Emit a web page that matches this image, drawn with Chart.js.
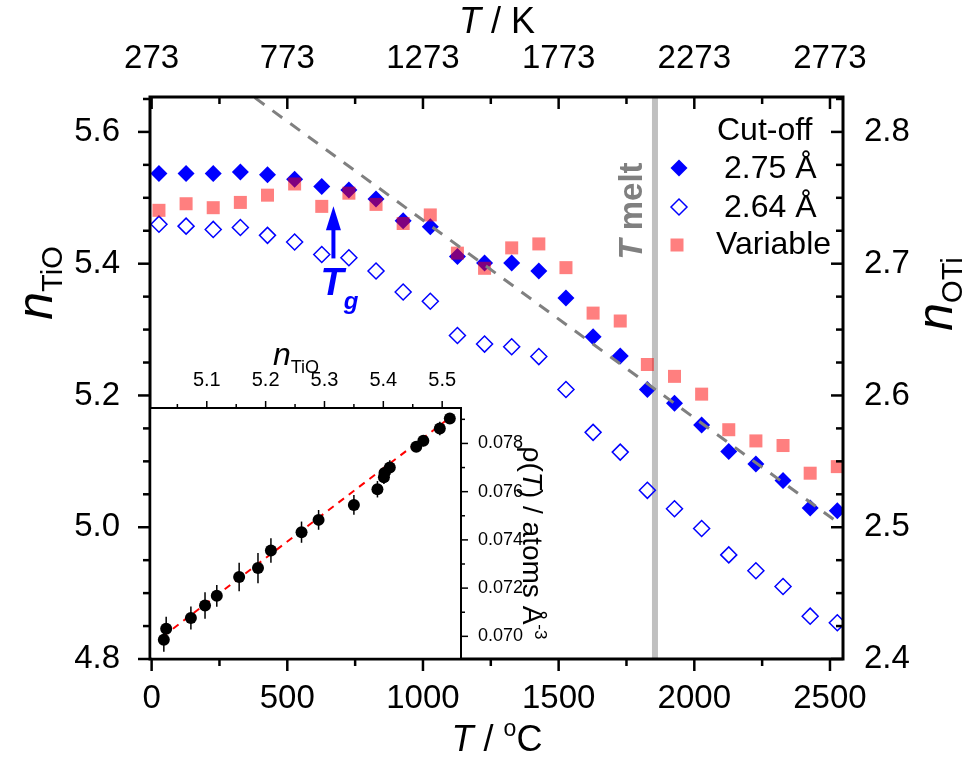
<!DOCTYPE html>
<html>
<head>
<meta charset="utf-8">
<script src="https://cdn.jsdelivr.net/npm/chart.js@4.4.0/dist/chart.umd.min.js"></script>
<style>
  html, body { margin: 0; padding: 0; background: #fff; }
  #wrap { position: relative; width: 971px; height: 761px; }
  #wrap canvas { position: absolute; left: 0; top: 0; }
</style>
</head>
<body>
<div id="wrap">
  <canvas id="main" width="971" height="761"></canvas>
  <canvas id="inset" width="971" height="761"></canvas>
</div>
<script>
// temperature of each simulation, in °C
const tempC = [27, 127, 227, 327, 427, 527, 627, 727, 827, 927, 1027, 1127, 1227,
               1327, 1427, 1527, 1627, 1727, 1827, 1927, 2027, 2127, 2227, 2327, 2427, 2527];
// n_TiO for each cut-off
const nCut275 = [5.537, 5.537, 5.537, 5.539, 5.535, 5.528, 5.517, 5.512, 5.498, 5.465, 5.456, 5.411, 5.401,
                 5.401, 5.389, 5.348, 5.289, 5.260, 5.209, 5.188, 5.155, 5.115, 5.096, 5.071, 5.029, 5.025];
const nCut264 = [5.460, 5.457, 5.452, 5.455, 5.443, 5.433, 5.414, 5.409, 5.389, 5.357, 5.343, 5.291, 5.278,
                 5.274, 5.259, 5.209, 5.144, 5.114, 5.056, 5.028, 4.998, 4.958, 4.934, 4.910, 4.865, 4.855];
const nVariable = [5.481, 5.491, 5.485, 5.493, 5.504, 5.521, 5.487, 5.507, 5.490, 5.461, 5.474, 5.416, 5.393,
                   5.424, 5.430, 5.394, 5.325, 5.313, 5.247, 5.229, 5.202, 5.148, 5.131, 5.124, 5.082, 5.092];
// grey dashed guide line (two end points)
const guideT = [380, 2530];
const guideN = [5.652, 5.007];
// melting point and glass transition marker
const meltT = 1855;
const tgT = 670;
const tgArrowN = [5.408, 5.487];

// axis ranges and tick labels
const xMin = -6, xMax = 2548;
const yMin = 4.8, yMax = 5.653;
const xTicksC = [0, 500, 1000, 1500, 2000, 2500];
const xTicksK = [273, 773, 1273, 1773, 2273, 2773];
const yTicksTiO = [4.8, 5.0, 5.2, 5.4, 5.6];
const yTicksOTi = [2.4, 2.5, 2.6, 2.7, 2.8];

// inset: density vs coordination number
const insetN = [5.027, 5.031, 5.073, 5.097, 5.117, 5.155, 5.187, 5.209, 5.261, 5.290,
                5.350, 5.390, 5.401, 5.402, 5.411, 5.456, 5.468, 5.496, 5.513];
const insetRho = [0.06986, 0.07031, 0.07076, 0.07128, 0.07168, 0.07246, 0.07283, 0.07356, 0.07432, 0.07483,
                  0.07545, 0.07610, 0.07660, 0.07677, 0.07700, 0.07786, 0.07811, 0.07862, 0.07903];
const insetErr = [0.0005, 0.0005, 0.00048, 0.00055, 0.00045, 0.00059, 0.00063, 0.00051, 0.00044, 0.00041,
                  0.00041, 0.00034, 0.00028, 0.00028, 0.0003, 0.0002, 0.00023, 0.00028, 0.0002];
const fitN = [5.025, 5.518];
const fitRho = [0.06999, 0.07916];
const insetXMin = 5.0035, insetXMax = 5.532;
const insetYMin = 0.06906, insetYMax = 0.07947;
const insetNTicks = [5.1, 5.2, 5.3, 5.4, 5.5];
const insetRhoTicks = [0.070, 0.072, 0.074, 0.076, 0.078];

const FONT = "'Liberation Sans', Arial, sans-serif";
const BLUE = '#0000ff';
const PINK = 'rgba(255,0,0,0.5)';

function pts(xs, ys) {
    return xs.map((x, i) => ({ x: x, y: ys[i] }));
}

function steps(from, to, step) {
    const out = [];
    for (let v = from; v <= to + step * 1e-6; v += step) out.push(+v.toFixed(6));
    return out;
}

// draws text made of several runs with their own font and vertical offset
function richText(ctx, parts, x, y, align) {
    let total = 0;
    parts.forEach(p => { ctx.font = p[1]; total += ctx.measureText(p[0]).width; });
    let cx = align === 'center' ? x - total / 2 : (align === 'right' ? x - total : x);
    ctx.textAlign = 'left';
    parts.forEach(p => {
        ctx.font = p[1];
        ctx.fillText(p[0], cx, y + (p[2] || 0));
        cx += ctx.measureText(p[0]).width;
    });
}

// tick marks along a scale; dir is +1/-1 in pixel direction from the axis line
function tickMarks(ctx, scale, values, len, base, dir, horizontal) {
    values.forEach(v => {
        if (v < scale.min - 1e-9 || v > scale.max + 1e-9) return;
        const p = scale.getPixelForValue(v);
        ctx.beginPath();
        if (horizontal) {
            ctx.moveTo(p, base);
            ctx.lineTo(p, base + dir * len);
        } else {
            ctx.moveTo(base, p);
            ctx.lineTo(base + dir * len, p);
        }
        ctx.stroke();
    });
}

function diamond(ctx, x, y, r) {
    ctx.beginPath();
    ctx.moveTo(x - r, y);
    ctx.lineTo(x, y - r);
    ctx.lineTo(x + r, y);
    ctx.lineTo(x, y + r);
    ctx.closePath();
}

const mainDecor = {
    id: 'mainDecor',
    afterDraw(chart) {
        const ctx = chart.ctx;
        const a = chart.chartArea;
        const sx = chart.scales.x, sxK = chart.scales.xK, sy = chart.scales.y, syO = chart.scales.yO;
        ctx.save();

        // frame
        ctx.strokeStyle = '#000';
        ctx.lineWidth = 3;
        ctx.strokeRect(a.left, a.top, a.right - a.left, a.bottom - a.top);

        // ticks: bottom/left outward, top/right inward
        ctx.lineWidth = 2.5;
        tickMarks(ctx, sx, xTicksC, 12, a.bottom, 1, true);
        tickMarks(ctx, sx, steps(250, 2250, 500), 7, a.bottom, 1, true);
        tickMarks(ctx, sxK, xTicksK, 12, a.top, 1, true);
        tickMarks(ctx, sxK, steps(523, 2523, 500), 7, a.top, 1, true);
        tickMarks(ctx, sy, yTicksTiO, 12, a.left, -1, false);
        tickMarks(ctx, sy, steps(4.85, 5.65, 0.05).filter(v => yTicksTiO.indexOf(v) < 0), 7, a.left, -1, false);
        tickMarks(ctx, syO, yTicksOTi, 12, a.right, -1, false);
        tickMarks(ctx, syO, steps(2.425, 2.825, 0.025).filter(v => yTicksOTi.indexOf(v) < 0), 7, a.right, -1, false);

        // axis titles
        ctx.fillStyle = '#000';
        ctx.textBaseline = 'alphabetic';
        richText(ctx, [['T', 'italic 36px ' + FONT], [' / ', '36px ' + FONT], ['o', '23px ' + FONT, -15], ['C', '36px ' + FONT]],
                 497, 751, 'center');
        richText(ctx, [['T', 'italic 36px ' + FONT], [' / K', '36px ' + FONT]], 497, 33, 'center');

        ctx.save();
        ctx.translate(52, 283);
        ctx.rotate(-Math.PI / 2);
        richText(ctx, [['n', 'italic 50px ' + FONT], ['TiO', '29px ' + FONT, 10]], 0, 0, 'center');
        ctx.restore();

        ctx.save();
        ctx.translate(952, 294);
        ctx.rotate(-Math.PI / 2);
        richText(ctx, [['n', 'italic 50px ' + FONT], ['OTi', '29px ' + FONT, 10]], 0, 0, 'center');
        ctx.restore();

        // T melt label
        ctx.save();
        ctx.translate(642, 211);
        ctx.rotate(-Math.PI / 2);
        ctx.fillStyle = '#808080';
        richText(ctx, [['T', 'italic bold 33px ' + FONT], [' melt', 'bold 33px ' + FONT]], 0, 0, 'center');
        ctx.restore();

        // T_g arrow and label
        const ax = sx.getPixelForValue(tgT);
        const yBase = sy.getPixelForValue(tgArrowN[0]);
        const yTip = sy.getPixelForValue(tgArrowN[1]);
        ctx.strokeStyle = BLUE;
        ctx.fillStyle = BLUE;
        ctx.lineWidth = 4;
        ctx.beginPath();
        ctx.moveTo(ax, yBase);
        ctx.lineTo(ax, yTip + 20);
        ctx.stroke();
        ctx.beginPath();
        ctx.moveTo(ax - 7.5, yTip + 24);
        ctx.lineTo(ax + 7.5, yTip + 24);
        ctx.lineTo(ax, yTip);
        ctx.closePath();
        ctx.fill();
        richText(ctx, [['T', 'italic bold 38px ' + FONT], ['g', 'italic bold 24px ' + FONT, 14]], ax + 6, 295, 'center');

        // legend
        ctx.fillStyle = '#000';
        ctx.font = '32px ' + FONT;
        ctx.textAlign = 'left';
        ctx.textBaseline = 'middle';
        ctx.fillText('Cut-off', 717, 131);
        ctx.fillText('2.75 Å', 724, 169);
        ctx.fillText('2.64 Å', 724, 208);
        ctx.fillText('Variable', 716, 245);
        ctx.fillStyle = BLUE;
        diamond(ctx, 679, 168, 8.5);
        ctx.fill();
        ctx.strokeStyle = BLUE;
        ctx.lineWidth = 1.5;
        diamond(ctx, 679, 207, 8);
        ctx.stroke();
        ctx.fillStyle = PINK;
        ctx.fillRect(670.5, 238.5, 13, 13);

        ctx.restore();
    }
};

const tickFont = { family: FONT, size: 33 };

new Chart(document.getElementById('main'), {
    type: 'scatter',
    data: {
        datasets: [
            {
                label: 'T melt', data: pts([meltT, meltT], [yMin, yMax]), showLine: true,
                borderColor: '#c0c0c0', borderWidth: 6, pointRadius: 0, order: 5, clip: 0
            },
            {
                label: '2.75 Å', data: pts(tempC, nCut275), pointStyle: 'rectRot', pointRadius: 8.5,
                backgroundColor: BLUE, borderWidth: 0, order: 3
            },
            {
                label: '2.64 Å', data: pts(tempC, nCut264), pointStyle: 'rectRot', pointRadius: 8,
                backgroundColor: 'rgba(0,0,0,0)', borderColor: BLUE, borderWidth: 1.5, order: 2
            },
            {
                label: 'Variable', data: pts(tempC, nVariable), pointStyle: 'rect', pointRadius: 9.2,
                backgroundColor: PINK, borderWidth: 0, order: 1
            },
            {
                label: 'guide', data: pts(guideT, guideN), showLine: true, borderColor: '#808080',
                borderWidth: 3, borderDash: [12, 10], pointRadius: 0, order: 0, clip: 0
            }
        ]
    },
    options: {
        responsive: false,
        animation: false,
        devicePixelRatio: 1,
        layout: { padding: 0 },
        plugins: { legend: { display: false }, tooltip: { enabled: false } },
        scales: {
            x: {
                type: 'linear', position: 'bottom', min: xMin, max: xMax,
                grid: { display: false }, border: { display: false },
                afterBuildTicks: s => { s.ticks = xTicksC.map(v => ({ value: v })); },
                afterFit: s => { s.height = 102; },
                ticks: { font: tickFont, color: '#000', padding: 12, maxRotation: 0, autoSkip: false, callback: v => String(v) }
            },
            xK: {
                type: 'linear', position: 'top', min: xMin + 273, max: xMax + 273,
                grid: { display: false }, border: { display: false },
                afterBuildTicks: s => { s.ticks = xTicksK.map(v => ({ value: v })); },
                afterFit: s => { s.height = 97; },
                ticks: { font: tickFont, color: '#000', padding: 10, maxRotation: 0, autoSkip: false, callback: v => String(v) }
            },
            y: {
                type: 'linear', position: 'left', min: yMin, max: yMax,
                grid: { display: false }, border: { display: false },
                afterBuildTicks: s => { s.ticks = yTicksTiO.map(v => ({ value: v })); },
                afterFit: s => { s.width = 150; },
                ticks: { font: tickFont, color: '#000', padding: 22, autoSkip: false, callback: v => v.toFixed(1) }
            },
            yO: {
                type: 'linear', position: 'right', min: yMin / 2, max: yMax / 2,
                grid: { display: false }, border: { display: false },
                afterBuildTicks: s => { s.ticks = yTicksOTi.map(v => ({ value: v })); },
                afterFit: s => { s.width = 128; },
                ticks: { font: tickFont, color: '#000', padding: 13, autoSkip: false, callback: v => v.toFixed(1) }
            }
        }
    },
    plugins: [mainDecor]
});

const insetDecor = {
    id: 'insetDecor',
    beforeDatasetsDraw(chart) {
        const ctx = chart.ctx;
        const a = chart.chartArea;
        const sx = chart.scales.x, sy = chart.scales.y;
        ctx.save();
        ctx.fillStyle = '#fff';
        ctx.fillRect(a.left + 1.5, a.top, a.right - a.left - 1.5, a.bottom - a.top - 1.5);
        // error bars
        ctx.strokeStyle = '#000';
        ctx.lineWidth = 1.5;
        insetN.forEach((n, i) => {
            const px = sx.getPixelForValue(n);
            ctx.beginPath();
            ctx.moveTo(px, sy.getPixelForValue(insetRho[i] - insetErr[i]));
            ctx.lineTo(px, sy.getPixelForValue(insetRho[i] + insetErr[i]));
            ctx.stroke();
        });
        ctx.restore();
    },
    afterDraw(chart) {
        const ctx = chart.ctx;
        const a = chart.chartArea;
        const sx = chart.scales.x, sy = chart.scales.y;
        ctx.save();
        ctx.strokeStyle = '#000';
        ctx.lineWidth = 2;
        ctx.beginPath();
        ctx.moveTo(a.left, a.top);
        ctx.lineTo(a.right, a.top);
        ctx.lineTo(a.right, a.bottom);
        ctx.stroke();

        ctx.lineWidth = 1.5;
        tickMarks(ctx, sx, insetNTicks, 7, a.top, -1, true);
        tickMarks(ctx, sx, steps(5.05, 5.5, 0.1), 4, a.top, -1, true);
        tickMarks(ctx, sy, insetRhoTicks, 7, a.right, 1, false);
        tickMarks(ctx, sy, steps(0.069, 0.079, 0.002), 4, a.right, 1, false);

        ctx.fillStyle = '#000';
        ctx.textBaseline = 'alphabetic';
        richText(ctx, [['n', 'italic 32px ' + FONT], ['TiO', '18px ' + FONT, 8]], 296, 365, 'center');

        ctx.save();
        ctx.translate(523, 543);
        ctx.rotate(Math.PI / 2);
        richText(ctx, [['ρ(', '28px ' + FONT], ['T', 'italic 28px ' + FONT], [') / atoms Å', '28px ' + FONT],
                       ['-3', '17px ' + FONT, -12]], 0, 0, 'center');
        ctx.restore();
        ctx.restore();
    }
};

new Chart(document.getElementById('inset'), {
    type: 'scatter',
    data: {
        datasets: [
            {
                label: 'rho', data: pts(insetN, insetRho), pointStyle: 'circle', pointRadius: 6,
                backgroundColor: '#000', borderWidth: 0, order: 0
            },
            {
                label: 'fit', data: pts(fitN, fitRho), showLine: true, borderColor: '#ff0000',
                borderWidth: 2, borderDash: [7, 6], pointRadius: 0, order: 1
            }
        ]
    },
    options: {
        responsive: false,
        animation: false,
        devicePixelRatio: 1,
        layout: { padding: { left: 150, bottom: 102, top: 0, right: 0 } },
        plugins: { legend: { display: false }, tooltip: { enabled: false } },
        scales: {
            x: {
                type: 'linear', position: 'top', min: insetXMin, max: insetXMax,
                grid: { display: false }, border: { display: false },
                afterBuildTicks: s => { s.ticks = insetNTicks.map(v => ({ value: v })); },
                afterFit: s => { s.height = 408; },
                ticks: { font: { family: FONT, size: 20 }, color: '#000', padding: 8, maxRotation: 0, autoSkip: false, callback: v => v.toFixed(1) }
            },
            y: {
                type: 'linear', position: 'right', min: insetYMin, max: insetYMax,
                grid: { display: false }, border: { display: false },
                afterBuildTicks: s => { s.ticks = insetRhoTicks.map(v => ({ value: v })); },
                afterFit: s => { s.width = 510; },
                ticks: { font: { family: FONT, size: 18 }, color: '#000', padding: 9, autoSkip: false, callback: v => v.toFixed(3) }
            }
        }
    },
    plugins: [insetDecor]
});
</script>
</body>
</html>
